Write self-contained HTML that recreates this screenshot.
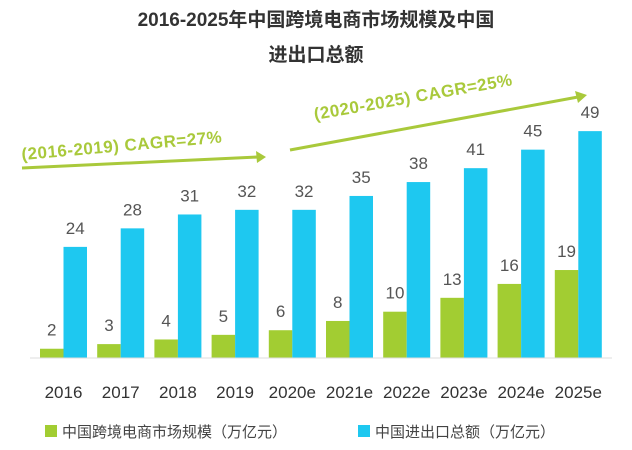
<!DOCTYPE html>
<html><head><meta charset="utf-8">
<style>
body{margin:0;background:#fff;}
svg{display:block;font-family:"Liberation Sans","Noto Sans CJK SC",sans-serif;}
</style></head>
<body>
<svg width="632" height="450" viewBox="0 0 632 450">
<text x="316" y="26" text-anchor="middle" font-size="19" font-weight="bold" fill="#333">2016-2025年中国跨境电商市场规模及中国</text>
<text x="316" y="61" text-anchor="middle" font-size="19" font-weight="bold" fill="#333">进出口总额</text>
<g id="bars"></g>
<line x1="22" y1="168" x2="258" y2="157" stroke="#a9c93b" stroke-width="3"/>
<polygon points="266,157 256,151 257,163" fill="#a9c93b"/>
<text x="22" y="160" font-size="17" font-weight="bold" fill="#a9c93b" letter-spacing="0.5" transform="rotate(-5 22 160)">(2016-2019)   CAGR=27%</text>
<line x1="290" y1="150" x2="578" y2="97" stroke="#a9c93b" stroke-width="3"/>
<polygon points="587,95 575,91 578,103" fill="#a9c93b"/>
<text x="315" y="120" font-size="17" font-weight="bold" fill="#a9c93b" letter-spacing="0.5" transform="rotate(-10 315 120)">(2020-2025)   CAGR=25%</text>
<rect x="45" y="425" width="12" height="12" fill="#a2cd32"/>
<text x="62" y="437" font-size="15" fill="#444">中国跨境电商市场规模（万亿元）</text>
<rect x="358" y="425" width="12" height="12" fill="#1ec8f0"/>
<text x="375" y="437" font-size="15" fill="#444">中国进出口总额（万亿元）</text>
</svg>
<script>
const categories=["2016","2017","2018","2019","2020e","2021e","2022e","2023e","2024e","2025e"];
const ecommerce=[2,3,4,5,6,8,10,13,16,19];
const trade=[24,28,31,32,32,35,38,41,45,49];
const NS="http://www.w3.org/2000/svg";
const g=document.getElementById("bars");
const base=358, scale=4.63, x0=40, step=57.2, bw=23.5;
function y(v){return base-v*scale;}
function mk(t,a){const e=document.createElementNS(NS,t);for(const k in a)e.setAttribute(k,a[k]);g.appendChild(e);return e;}
categories.forEach((c,i)=>{
 const gx=x0+i*step;
 let r=mk("rect",{x:gx,y:y(ecommerce[i]),width:bw,height:ecommerce[i]*scale,fill:"#a2cd32"});
 
 
 let r2=mk("rect",{x:gx+bw,y:y(trade[i]),width:bw,height:trade[i]*scale,fill:"#1ec8f0"});
 
 
 let t=mk("text",{x:gx+bw/2,y:y(ecommerce[i])-13,"text-anchor":"middle","font-size":"17",fill:"#555"});
 t.textContent=ecommerce[i];
 
 
 let t2=mk("text",{x:gx+bw*1.5,y:y(trade[i])-13,"text-anchor":"middle","font-size":"17",fill:"#555"});
 t2.textContent=trade[i];
 
 
 let l=mk("text",{x:gx+bw,y:398,"text-anchor":"middle","font-size":"17",fill:"#333"});
 l.textContent=c;
 
 
});
const ax=mk("line",{x1:30,y1:base,x2:612,y2:base,stroke:"#ddd","stroke-width":1});


</script>
</body></html>
